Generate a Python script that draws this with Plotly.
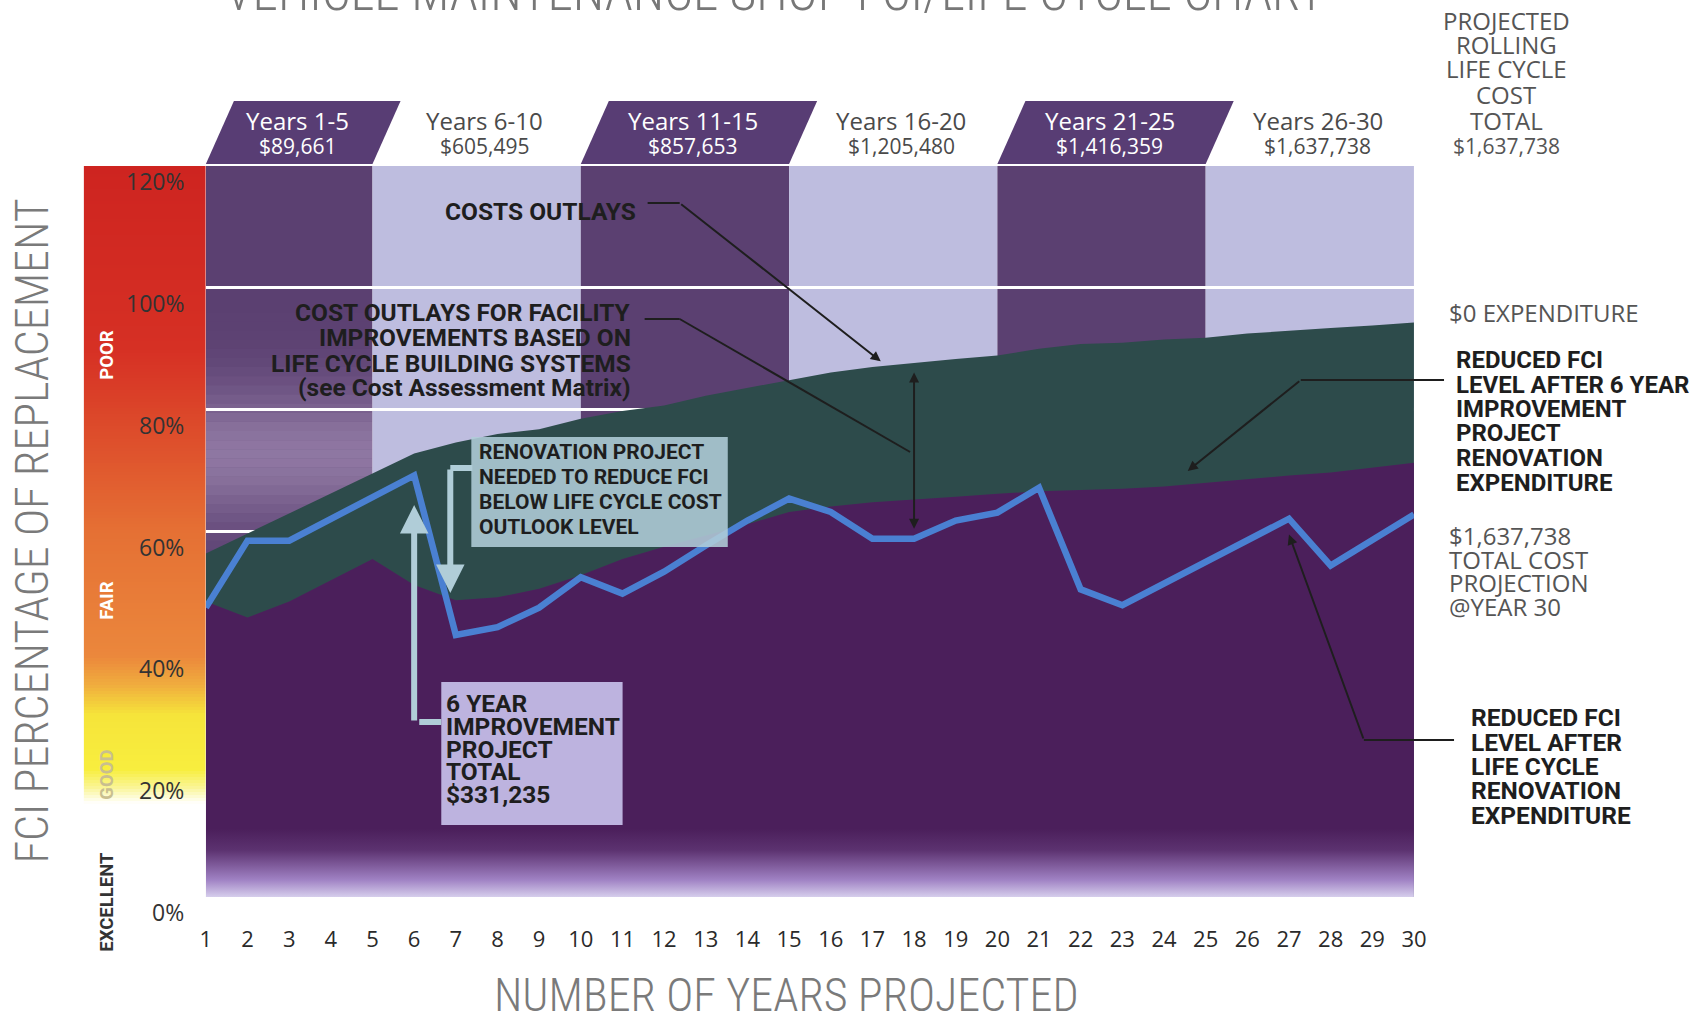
import numpy as np
import plotly.graph_objects as go

W, H = 1699, 1022
PL, PR, PT, PB = 207, 1413, 166, 897   # target plot box in page pixels

# ---------------- data ----------------
years = list(range(1, 31))
fci_no_spend = [56.4, 59.7, 62.9, 66.3, 69.5, 72.8, 74.6, 76.0, 76.8, 78.5,
                79.8, 80.7, 82.3, 83.6, 84.9, 86.1, 87.0, 87.7, 88.3, 88.9,
                90.0, 90.8, 91.0, 91.5, 91.8, 92.5, 93.0, 93.4, 93.8, 94.3]
fci_after_6yr = [48.5, 45.9, 48.5, 52.0, 55.5, 51.2, 48.7, 49.2, 50.6, 52.8,
                 55.5, 57.5, 59.3, 61.2, 63.2, 64.1, 64.8, 65.2, 65.7, 66.2,
                 66.6, 66.8, 67.0, 67.4, 68.0, 68.7, 69.2, 69.7, 70.5, 71.3]
fci_life_cycle = [47.5, 58.5, 58.5, 62.0, 65.4, 69.2, 43.0, 44.3, 47.5, 52.5,
                  49.8, 53.4, 57.7, 61.8, 65.4, 63.2, 58.8, 58.8, 61.8, 63.1,
                  67.2, 50.5, 47.9, 51.5, 54.9, 58.7, 62.1, 54.4, 58.5, 62.8]

period_labels = ["Years 1-5", "Years 6-10", "Years 11-15", "Years 16-20", "Years 21-25", "Years 26-30"]
period_costs = ["$89,661", "$605,495", "$857,653", "$1,205,480", "$1,416,359", "$1,637,738"]
period_start = [1, 5, 10, 15, 20, 25]
period_end = [5, 10, 15, 20, 25, 30]

y_tick_vals = [0, 20, 40, 60, 80, 100, 120]
y_tick_text = ["0%", "20%", "40%", "60%", "80%", "100%", "120%"]

condition_names = ["POOR", "FAIR", "GOOD", "EXCELLENT"]
condition_pos = [355, 601, 775, 902]

total_cost = "$1,637,738"
six_year_total = "$331,235"

# ---------------- helpers ----------------
def HX(px): return (px - 7.48) / 0.9871          # horizontal placement correction
def PX(px): return HX(px) / W
def PY(py): return 1 - py / H
def DX(px): return 1 + (px - PL) / (PR - PL) * 29
def DY(py): return (PB - py) / (PB - PT) * 120
def XP(x): return PL + (x - 1) / 29 * (PR - PL)
def YP(y): return PB - y / 120 * (PB - PT)

NARROW = "Liberation Sans Narrow, Roboto Condensed, Roboto, sans-serif"
BOLD = "Roboto, Open Sans, sans-serif"
REG = "Open Sans, Roboto, sans-serif"

DARK_BAND = "rgb(91,64,113)"
LIGHT_BAND = "rgb(190,189,223)"
GREEN = "rgb(45,75,75)"
PURPLE = "rgb(75,31,91)"
BLUE = "rgb(74,128,210)"
PALE_BLUE = "rgb(176,205,216)"

fig = go.Figure()

fig.add_trace(go.Scatter(x=years, y=fci_no_spend, mode="lines", fill="tozeroy",
                         fillcolor=GREEN, line=dict(color=GREEN, width=0), hoverinfo="skip"))
fig.add_trace(go.Scatter(x=years, y=fci_after_6yr, mode="lines", fill="tozeroy",
                         fillcolor=PURPLE, line=dict(color=PURPLE, width=0), hoverinfo="skip",
                         fillgradient=dict(type="vertical", start=0, stop=14,
                                           colorscale=[[0, "rgb(214,206,236)"], [0.2, "rgb(160,130,196)"],
                                                       [0.55, "rgb(92,50,112)"], [0.8, PURPLE], [1, PURPLE]])))
fig.add_trace(go.Scatter(x=years, y=fci_life_cycle, mode="lines",
                         line=dict(color=BLUE, width=6.5), hoverinfo="skip"))

# condition colour bar at the left (decoration)
gy = np.arange(0, 120.5, 0.5)
fig.add_trace(go.Heatmap(x=[0, 1], y=gy, z=[[v, v] for v in gy], zmin=0, zmax=120,
                         showscale=False, hoverinfo="skip", xaxis="x2", yaxis="y2",
                         colorscale=[[0, "white"], [0.128, "white"], [0.15, "rgb(250,245,150)"],
                                     [0.175, "rgb(248,238,62)"], [0.25, "rgb(246,228,58)"],
                                     [0.29, "rgb(240,172,62)"], [0.33, "rgb(235,135,60)"],
                                     [0.5, "rgb(229,112,52)"], [0.62, "rgb(222,80,44)"],
                                     [0.75, "rgb(214,48,36)"], [1, "rgb(206,36,32)"]]))

shapes = []
for i, (s, e) in enumerate(zip(period_start, period_end)):
    shapes.append(dict(type="rect", xref="x", yref="y", x0=s, x1=e, y0=0, y1=120,
                       fillcolor=DARK_BAND if i % 2 == 0 else LIGHT_BAND, line_width=0, layer="below"))
for k in range(30):
    y0 = 54 + k * 1.5
    a = 0.42 * np.exp(-((y0 - 72) / 11) ** 2)
    shapes.append(dict(type="rect", xref="x", yref="y", x0=period_start[0], x1=period_end[0],
                       y0=y0, y1=y0 + 1.5, fillcolor=f"rgba(215,195,230,{a:.3f})",
                       line_width=0, layer="below"))

SLANT = 28
for i, (s, e) in enumerate(zip(period_start, period_end)):
    if i % 2 == 0:
        xb0, xb1 = XP(s), XP(e)
        path = (f"M {PX(xb0)},{PY(164)} L {PX(xb1)},{PY(164)} "
                f"L {PX(xb1 + SLANT)},{PY(101)} L {PX(xb0 + SLANT)},{PY(101)} Z")
        shapes.append(dict(type="path", xref="paper", yref="paper", path=path,
                           fillcolor="rgb(88,61,116)", line_width=0))

def pline(x0, y0, x1, y1, color="#1e1e1e", width=2):
    shapes.append(dict(type="line", xref="paper", yref="paper", x0=PX(x0), y0=PY(y0),
                       x1=PX(x1), y1=PY(y1), line=dict(color=color, width=width)))

shapes.append(dict(type="rect", xref="paper", yref="paper", x0=PX(472), x1=PX(728),
                   y0=PY(547), y1=PY(437), fillcolor="rgba(176,205,216,0.88)", line_width=0))
shapes.append(dict(type="rect", xref="paper", yref="paper", x0=PX(442), x1=PX(623),
                   y0=PY(825), y1=PY(682), fillcolor="rgba(198,190,233,0.93)", line_width=0))

pline(648, 203, 680, 203)
pline(645, 319, 680, 319)
pline(680, 319, 910, 452)
pline(1443, 380, 1300, 380)
pline(1453, 740, 1363, 740)
pline(420, 722, 442, 722, PALE_BLUE, 6)
pline(451, 468, 473, 468, PALE_BLUE, 6)

ann = []

def text(t, x, y, size, color, family=REG, anchor="center", weight="normal", angle=0):
    ann.append(dict(text=t, x=PX(x), y=PY(y), xref="paper", yref="paper", showarrow=False,
                    xanchor=anchor, yanchor="middle", textangle=angle, borderpad=0,
                    font=dict(size=size, color=color, family=family, weight=weight)))

def arrow(x, y, ax, ay, color="#1e1e1e", width=2, head=2, size=1.0, side="end"):
    ann.append(dict(x=x, y=y, ax=ax, ay=ay, xref="x", yref="y", axref="x", ayref="y",
                    text="", showarrow=True, arrowhead=head, arrowsize=size, arrowwidth=width,
                    arrowcolor=color, arrowside=side, startarrowhead=head, startarrowsize=size))

# title (cut off at the top edge, as in the source)
text("VEHICLE MAINTENANCE SHOP FCI/LIFE CYCLE CHART", 775, -8, 51, "#777", NARROW, weight=300)

for i, (lab, cost, s, e) in enumerate(zip(period_labels, period_costs, period_start, period_end)):
    cx = (XP(s) + XP(e)) / 2 + 8
    col = "white" if i % 2 == 0 else "#4a4a4a"
    text(lab, cx, 121, 24, col, REG)
    text(cost, cx, 146, 21, col, REG)

for t, y, sz in zip(["PROJECTED", "ROLLING", "LIFE CYCLE", "COST", "TOTAL", total_cost],
                    [20, 44, 68, 94, 121, 146], [24, 24, 24, 24, 24, 21]):
    text(t, 1505, y, sz, "#555", REG)

for v, t in zip(y_tick_vals, y_tick_text):
    text(t, 186, YP(v) + 15, 23, "#333", REG, anchor="right")

for name, py, col in zip(condition_names, condition_pos, ["white", "white", "#c9bf8f", "#333"]):
    text(name, 108, py, 18.5, col, BOLD, weight="bold", angle=-90)

text("FCI PERCENTAGE OF REPLACEMENT", 33, 531, 46, "#7a7a7a", NARROW, angle=-90, weight=300)
text("NUMBER OF YEARS PROJECTED", 787, 995, 46, "#7a7a7a", NARROW, weight=300)

text("COSTS OUTLAYS", 637, 211, 24.5, "#1e1e1e", BOLD, anchor="right", weight="bold")
for t, y in zip(["COST OUTLAYS FOR FACILITY", "IMPROVEMENTS BASED ON",
                 "LIFE CYCLE BUILDING SYSTEMS", "(see Cost Assessment Matrix)"],
                [313, 338, 363, 387]):
    text(t, 632, y, 24.5, "#1e1e1e", BOLD, anchor="right", weight="bold")

for t, y in zip(["RENOVATION PROJECT", "NEEDED TO REDUCE FCI", "BELOW LIFE CYCLE COST", "OUTLOOK LEVEL"],
                [452, 477, 502, 527]):
    text(t, 479, y, 21, "#1e1e1e", BOLD, anchor="left", weight="bold")

for t, y in zip(["6 YEAR", "IMPROVEMENT", "PROJECT", "TOTAL", six_year_total],
                [703, 726, 749, 771, 794]):
    text(t, 446, y, 24.5, "#1e1e1e", BOLD, anchor="left", weight="bold")

text("$0 EXPENDITURE", 1447, 313, 24, "#555", REG, anchor="left")
for t, y in zip(["REDUCED FCI", "LEVEL AFTER 6 YEAR", "IMPROVEMENT", "PROJECT", "RENOVATION", "EXPENDITURE"],
                [360, 385, 409, 433, 458, 483]):
    text(t, 1454, y, 24, "#1e1e1e", BOLD, anchor="left", weight="bold")
for t, y in zip([total_cost, "TOTAL COST", "PROJECTION", "@YEAR 30"], [535, 559, 582, 606]):
    text(t, 1447, y, 24, "#555", REG, anchor="left")
for t, y in zip(["REDUCED FCI", "LEVEL AFTER", "LIFE CYCLE", "RENOVATION", "EXPENDITURE"],
                [717, 742, 766, 790, 815]):
    text(t, 1469, y, 24.5, "#1e1e1e", BOLD, anchor="left", weight="bold")

g_at = lambda x: float(np.interp(x, years, fci_no_spend))
p_at = lambda x: float(np.interp(x, years, fci_after_6yr))
arrow(17.2, g_at(17.2) + 0.8, DX(680), DY(203))
arrow(18, fci_no_spend[17] - 1.6, 18, fci_life_cycle[17] + 1.4, side="end+start")
arrow(24.57, p_at(24.57) + 2.2, DX(1300), DY(380))
arrow(27, fci_life_cycle[26] - 2.6, DX(1363), DY(740))
arrow(6, DY(505), 6, DY(722), PALE_BLUE, 6, 2, 0.95)
arrow(DX(451), DY(593), DX(451), DY(468), PALE_BLUE, 6, 2, 0.95)

fig.update_layout(
    width=W, height=H, autosize=False,
    margin=dict(l=0, r=0, t=0, b=0),
    paper_bgcolor="white", plot_bgcolor="white", showlegend=False,
    shapes=shapes, annotations=ann,
    xaxis=dict(domain=[PX(PL), PX(PR)], range=[1, 30], tickvals=years,
               ticktext=[str(y) for y in years], showgrid=False, zeroline=False,
               showline=False, ticks="", ticklabelstandoff=27,
               tickfont=dict(size=22, color="#2a2a2a", family=REG)),
    yaxis=dict(domain=[1 - PB / H, 1 - PT / H], range=[0, 120], tickvals=y_tick_vals,
               showticklabels=False, gridcolor="white", gridwidth=3, zeroline=False, showline=False),
    xaxis2=dict(domain=[PX(85), PX(PL)], range=[-0.5, 1.5], visible=False, anchor="y2"),
    yaxis2=dict(domain=[1 - PB / H, 1 - PT / H], range=[0, 120], visible=False, anchor="x2"),
)

fig.write_html("out.html", config=dict(responsive=False, displayModeBar=False),
               post_script="document.body.style.margin='0';document.body.style.overflow='hidden';")
